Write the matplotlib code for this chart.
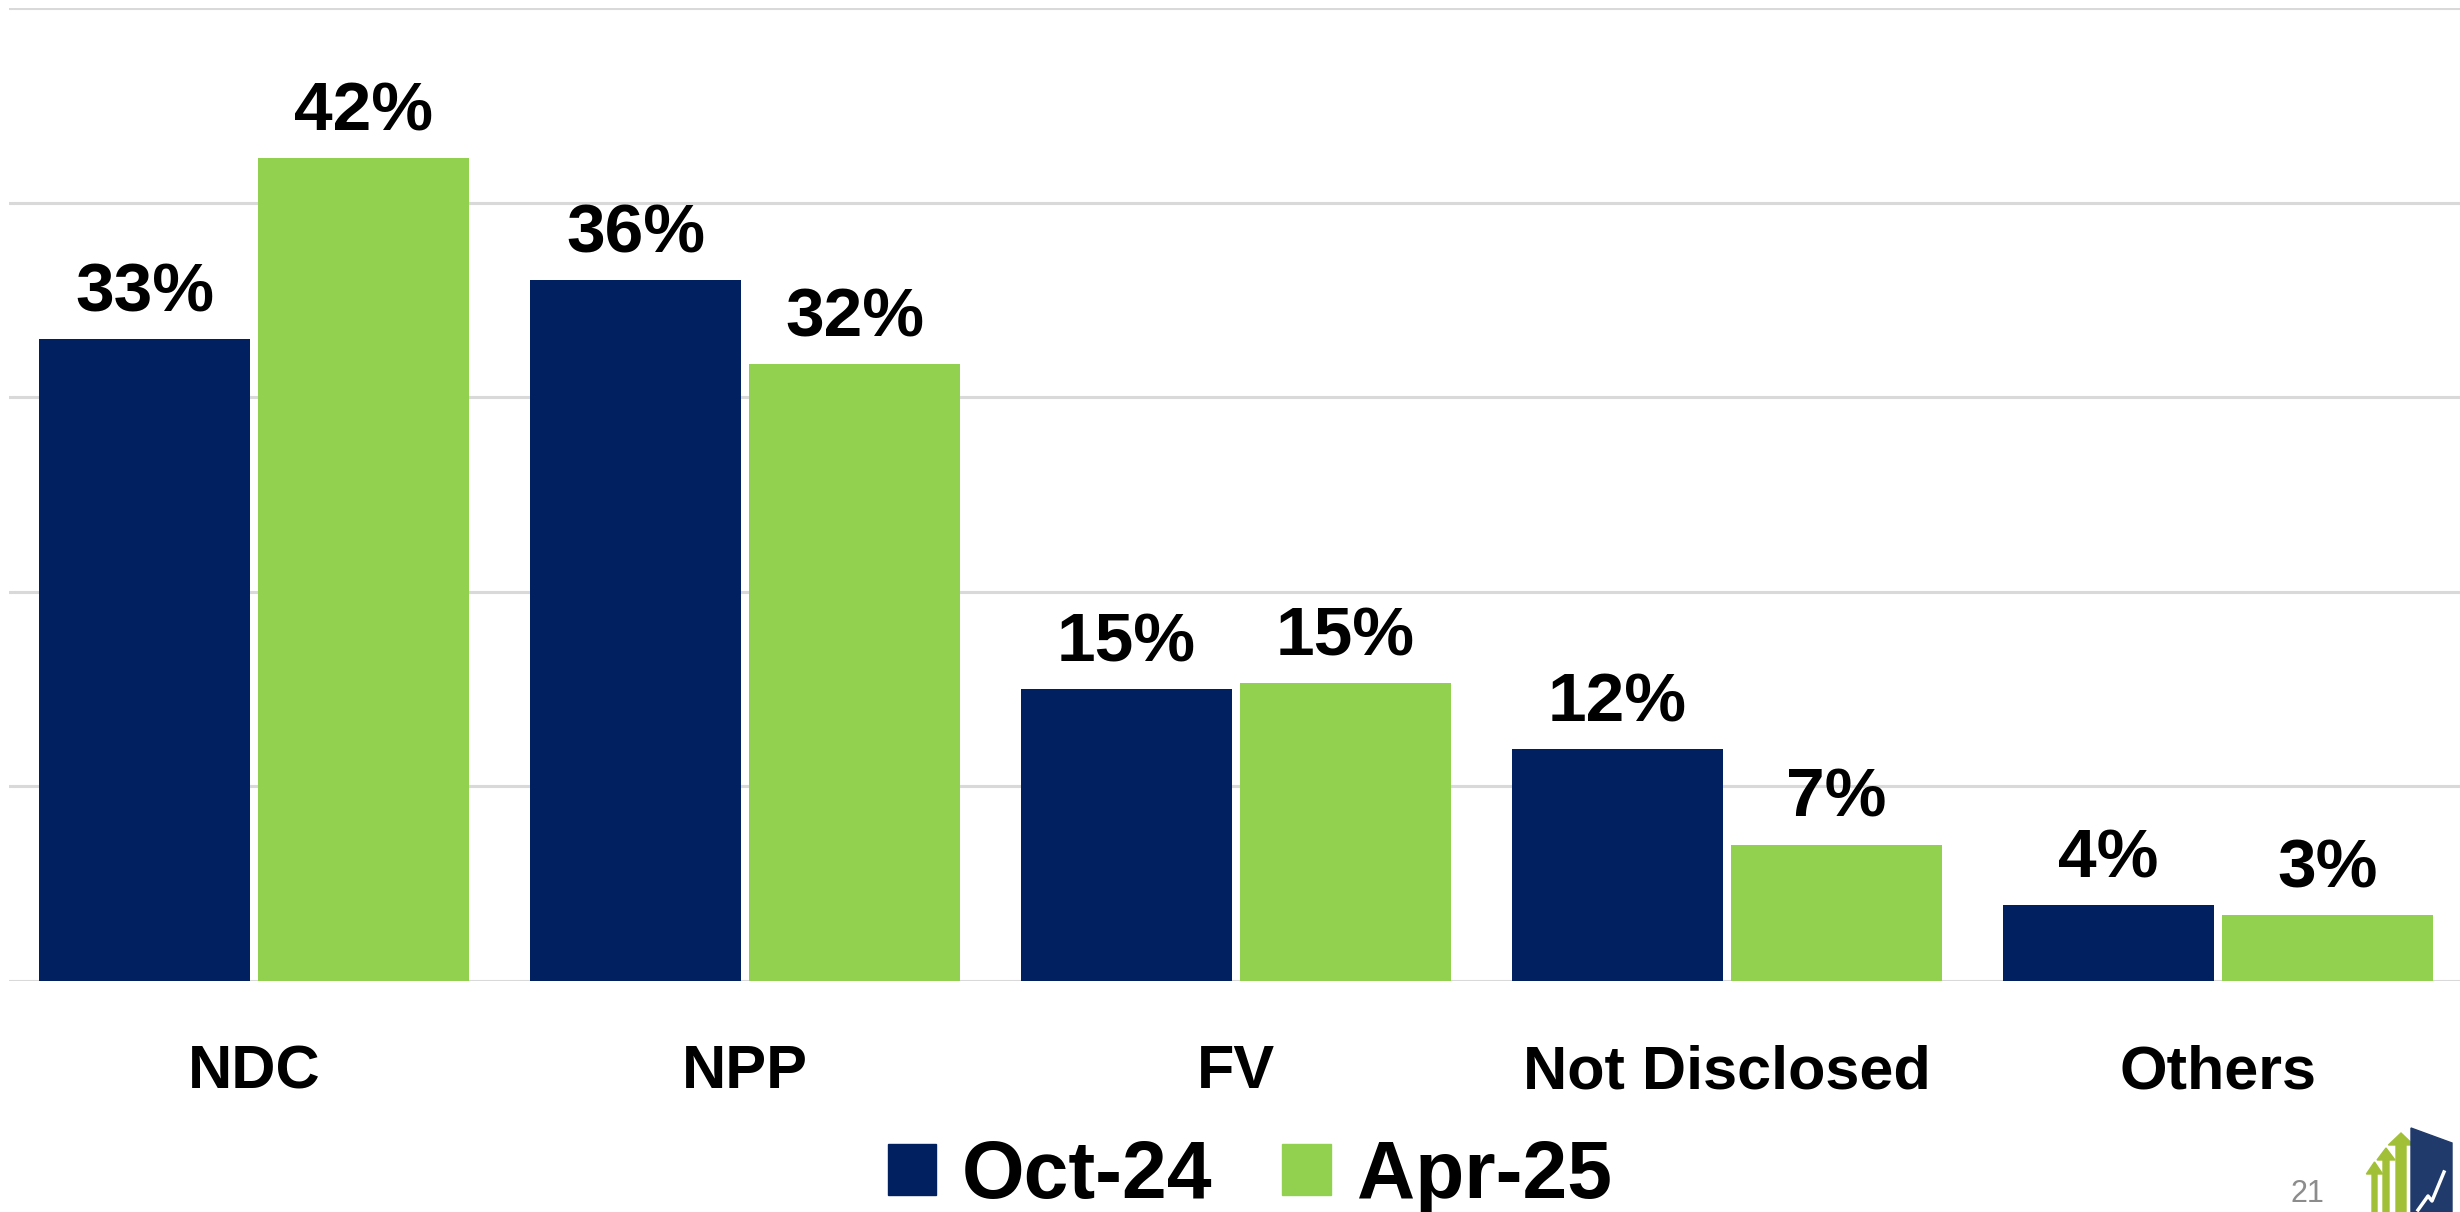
import matplotlib.pyplot as plt
import numpy as np
from matplotlib.patches import Patch, Polygon

# Data
categories = ['NDC', 'NPP', 'FV', 'Not Disclosed', 'Others']
series_names = ['Oct-24', 'Apr-25']
oct24 = [33.0, 36.0, 15.0, 11.9, 3.9]
apr25 = [42.3, 31.7, 15.3, 7.0, 3.4]

navy = '#002060'
green = '#92D050'

plt.rcParams['font.family'] = ['Liberation Sans', 'DejaVu Sans']
plt.rcParams['font.weight'] = 'bold'

W, H = 2460, 1212
fig = plt.figure(figsize=(W / 100, H / 100), dpi=100)
ax = fig.add_axes([0.0035, 0.1906, 0.998, 0.8028])

x = np.arange(len(categories))
w = 0.43
off = 0.223
bars1 = ax.bar(x - off, oct24, w, color=navy, zorder=3)
bars2 = ax.bar(x + off, apr25, w, color=green, zorder=3)

# value labels
for bars, vals in [(bars1, oct24), (bars2, apr25)]:
    for b, v in zip(bars, vals):
        ax.annotate(f'{round(v)}%', (b.get_x() + b.get_width() / 2, v),
                    xytext=(0, 20), textcoords='offset points',
                    ha='center', va='baseline', fontsize=50, fontweight='bold')

ax.set_xlim(-0.5, len(categories) - 0.5)
ax.set_ylim(0, 50)
ax.set_yticks(range(0, 51, 10))
ax.yaxis.grid(True, color='#D9D9D9', lw=2.2)
ax.set_axisbelow(True)
for s in ax.spines.values():
    s.set_visible(False)
ax.set_xticks(x)
ax.set_xticklabels(categories, fontsize=44, fontweight='bold')
ax.tick_params(left=False, labelleft=False, bottom=False, pad=42)

# legend
handles = [Patch(color=navy), Patch(color=green)]
fig.legend(handles, series_names, loc='center', bbox_to_anchor=(0.508, 0.029),
           ncol=2, frameon=False, prop={'size': 58, 'weight': 'bold'},
           handlelength=0.6, handleheight=0.6, handletextpad=0.32,
           columnspacing=0.87, borderpad=0)


# small logo + page number, bottom right
def fp(px, py):
    return (px / W, 1 - py / H)


arrow_col = '#A2C037'
for x0, x1, top in [(2370, 2379, 1162), (2381, 2391, 1148), (2394, 2408, 1133)]:
    cx = (x0 + x1) / 2
    hw = (x1 - x0) * 0.9
    shaft = [fp(x0 + 2, H), fp(x0 + 2, top + 12), fp(cx - hw, top + 12),
             fp(cx, top), fp(cx + hw, top + 12), fp(x1 - 2, top + 12), fp(x1 - 2, H)]
    fig.add_artist(Polygon(shaft, closed=True, color=arrow_col, transform=fig.transFigure))
fig.add_artist(Polygon([fp(2411, 1128), fp(2452, 1143), fp(2452, H), fp(2411, H)],
                       closed=True, color='#203A6B', transform=fig.transFigure))
zig = [fp(2418, 1210), fp(2428, 1196), fp(2432, 1201), fp(2444, 1172)]
fig.add_artist(plt.Line2D([p[0] for p in zig], [p[1] for p in zig], color='white',
                          lw=2.5, transform=fig.transFigure))
fig.text(2290 / W, 1 - 1209 / H, '21', color='#8C8C8C', fontsize=22,
         fontweight='normal', va='bottom', ha='left')

fig.savefig('out.png', dpi=100)
